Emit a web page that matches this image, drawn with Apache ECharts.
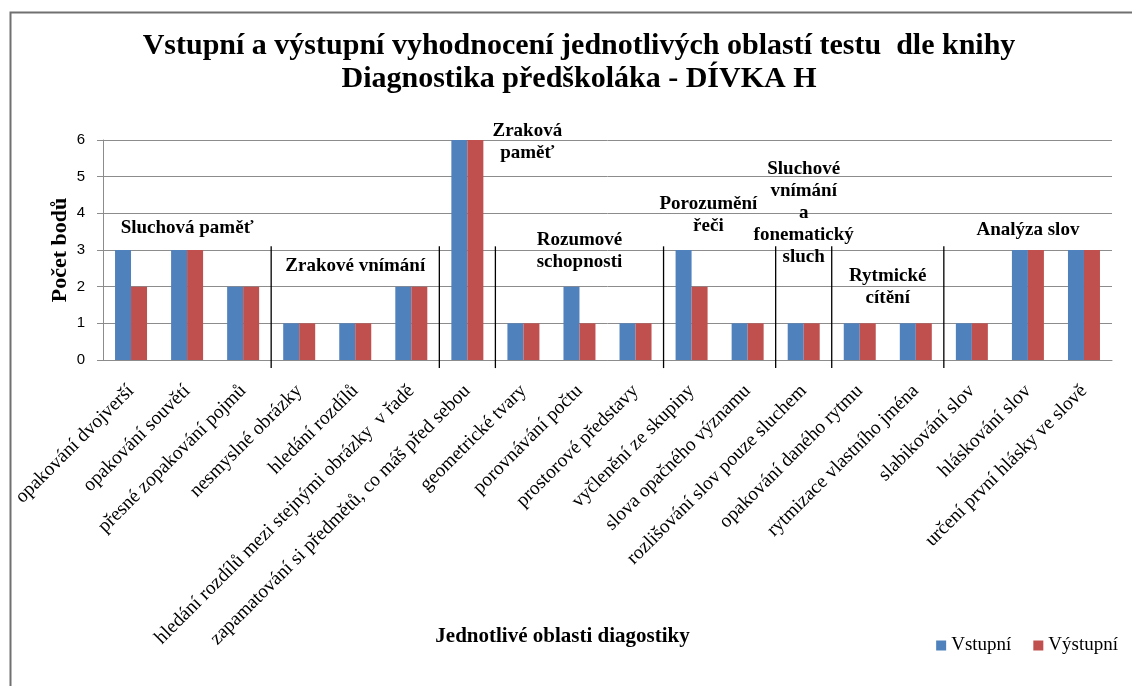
<!DOCTYPE html>
<html>
<head>
<meta charset="utf-8">
<title>Diagnostika předškoláka - DÍVKA H</title>
<script src="https://cdn.jsdelivr.net/npm/echarts@6/dist/echarts.min.js"></script>
<style>
  html, body { margin: 0; padding: 0; background: #fff; }
  #container { width: 1132px; height: 686px; }
</style>
</head>
<body>
<div id="container"></div>
<script>
// kategorie (oblasti testu)
var categories = [
    'opakování dvojverší',
    'opakování souvětí',
    'přesné zopakování pojmů',
    'nesmyslné obrázky',
    'hledání rozdílů',
    'hledání rozdílů mezi stejnými obrázky  v řadě',
    'zapamatování si předmětů, co máš před sebou',
    'geometrické tvary',
    'porovnávání počtu',
    'prostorové představy',
    'vyčlenění ze skupiny',
    'slova opačného významu',
    'rozlišování slov pouze sluchem',
    'opakování daného rytmu',
    'rytmizace vlastního jména',
    'slabikování slov',
    'hláskování slov',
    'určení první hlásky ve slově'
];
var vstupni  = [3, 3, 2, 1, 1, 2, 6, 1, 2, 1, 3, 1, 1, 1, 1, 1, 3, 3];
var vystupni = [2, 3, 2, 1, 1, 2, 6, 1, 1, 1, 2, 1, 1, 1, 1, 1, 3, 3];
var yTicks = [0, 1, 2, 3, 4, 5, 6];

// skupiny oblastí: nazev + rozsah kategorii [od, do)
var groupNames = [
    'Sluchová paměť',
    'Zrakové vnímání',
    'Zraková\npaměť',
    'Rozumové\nschopnosti',
    'Porozumění\nřeči',
    'Sluchové\nvnímání\na\nfonematický\nsluch',
    'Rytmické\ncítění',
    'Analýza slov'
];
var groupSpans = [[0, 3], [3, 6], [6, 7], [7, 10], [10, 12], [12, 13], [13, 15], [15, 18]];

// umisteni popisku skupin (v jednotkach os) - jen layout
var groupLabelPos = [[1.5, 3.6], [4.5, 2.56], [7.57, 5.95], [8.5, 2.97], [10.8, 3.95], [12.5, 4.0], [14, 1.98], [16.5, 3.54]];

var blue = '#4F81BD';
var red = '#C0504D';
var serif = "'Liberation Serif', 'DejaVu Serif', serif";

// hranice mezi skupinami
var separators = [];
for (var i = 1; i < groupSpans.length; i++) {
    separators.push([groupSpans[i][0], 0]);
}
var labelData = [];
for (var j = 0; j < groupNames.length; j++) {
    labelData.push([groupLabelPos[j][0], groupLabelPos[j][1], j]);
}

var dom = document.getElementById('container');
var myChart = echarts.init(dom, null, { renderer: 'canvas' });

var option = {
    backgroundColor: '#fff',
    animation: false,
    title: {
        text: 'Vstupní a výstupní vyhodnocení jednotlivých oblastí testu  dle knihy\nDiagnostika předškoláka - DÍVKA H',
        left: 579,
        top: 30,
        padding: 0,
        textAlign: 'center',
        textStyle: {
            fontFamily: serif,
            fontWeight: 'bold',
            fontSize: 30,
            lineHeight: 33,
            color: '#000'
        }
    },
    graphic: [{
        type: 'rect',
        left: 8,
        top: 10,
        shape: { width: 1200, height: 800 },
        style: { fill: null, stroke: '#707070', lineWidth: 2 },
        silent: true,
        z: -1
    }],
    legend: {
        data: ['Vstupní', 'Výstupní'],
        right: 9,
        top: 631,
        itemWidth: 10,
        itemHeight: 10,
        itemGap: 22,
        itemTextGap: 4,
        icon: 'rect',
        textStyle: { fontFamily: serif, fontSize: 19, color: '#000' }
    },
    grid: {
        left: 103,
        right: 20,
        top: 140,
        bottom: 326
    },
    xAxis: [{
        type: 'category',
        data: categories,
        name: 'Jednotlivé oblasti diagostiky',
        nameLocation: 'middle',
        nameGap: 266,
        nameMoveOverlap: false,
        nameTextStyle: {
            fontFamily: serif, fontWeight: 'bold', fontSize: 21, color: '#000',
            padding: [0, 90, 0, 0]
        },
        axisLine: { lineStyle: { color: '#8c8c8c', width: 1 } },
        axisTick: { show: false },
        axisLabel: {
            interval: 0,
            rotate: 45,
            margin: 28,
            fontFamily: serif,
            fontSize: 19.5,
            color: '#000'
        }
    }, {
        type: 'value',
        min: 0,
        max: 18,
        show: false
    }],
    yAxis: {
        type: 'value',
        min: 0,
        max: 6,
        interval: 1,
        name: 'Počet bodů',
        nameLocation: 'middle',
        nameGap: 32,
        nameMoveOverlap: false,
        nameTextStyle: { fontFamily: serif, fontWeight: 'bold', fontSize: 22, color: '#000' },
        axisLine: { show: true, lineStyle: { color: '#8c8c8c' } },
        axisTick: { show: true, length: 6, lineStyle: { color: '#8c8c8c' } },
        axisLabel: {
            margin: 18,
            fontFamily: "'Liberation Sans', Arial, sans-serif",
            fontSize: 15,
            color: '#000',
            formatter: function (v) { return yTicks.indexOf(v) >= 0 ? String(v) : ''; }
        },
        splitLine: { lineStyle: { color: '#8c8c8c', width: 1 } }
    },
    series: [{
        name: 'Vstupní',
        type: 'bar',
        data: vstupni,
        barWidth: 16,
        barGap: '0%',
        itemStyle: { color: blue }
    }, {
        name: 'Výstupní',
        type: 'bar',
        data: vystupni,
        barWidth: 16,
        barGap: '0%',
        itemStyle: { color: red }
    }, {
        // svisle oddelovace skupin
        type: 'custom',
        xAxisIndex: 1,
        yAxisIndex: 0,
        silent: true,
        z: 5,
        data: separators,
        renderItem: function (params, api) {
            var x = api.value(0);
            var p1 = api.coord([x, 3.1]);
            var p2 = api.coord([x, -0.22]);
            return {
                type: 'line',
                shape: { x1: p1[0], y1: p1[1], x2: p2[0], y2: p2[1] },
                style: { stroke: '#000', lineWidth: 1.3 }
            };
        }
    }, {
        // popisky skupin
        type: 'custom',
        xAxisIndex: 1,
        yAxisIndex: 0,
        silent: true,
        z: 6,
        data: labelData,
        renderItem: function (params, api) {
            var p = api.coord([api.value(0), api.value(1)]);
            return {
                type: 'text',
                x: p[0],
                y: p[1],
                style: {
                    text: groupNames[api.value(2)],
                    align: 'center',
                    verticalAlign: 'middle',
                    font: 'bold 19px ' + serif,
                    lineHeight: 22,
                    fill: '#000'
                }
            };
        }
    }]
};

if (option && typeof option === 'object') {
    myChart.setOption(option, true);
}
</script>
</body>
</html>
